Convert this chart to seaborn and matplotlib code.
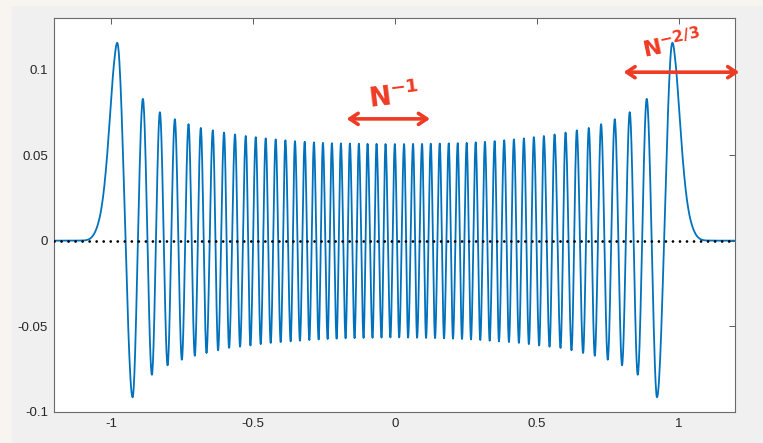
import numpy as np
import pandas as pd
import matplotlib
matplotlib.use("Agg")
import matplotlib.pyplot as plt
import seaborn as sns

# ---------------- data (left half; the curve is even) ----------------
# outer tail of the left edge (x, y)
tail_x = [-1.200, -1.100, -1.083, -1.071, -1.059, -1.047, -1.036, -1.025, -1.014, -1.002, -0.990]
tail_y = [0.0, 0.0001, 0.0005, 0.0016, 0.0042, 0.0092, 0.0170, 0.0300, 0.0495, 0.0770, 0.1030]

# positive maxima from the left edge up to the centre (x = 0)
peak_x = [-0.9782, -0.8878, -0.8279, -0.7752, -0.7270, -0.6837, -0.6414, -0.6017, -0.5630,
          -0.5253, -0.4901, -0.4550, -0.4198, -0.3856, -0.3519, -0.3177, -0.2850, -0.2533,
          -0.2217, -0.1900, -0.1583, -0.1267, -0.0961, -0.0644, -0.0327, 0.0]
peak_y = [0.1157, 0.0829, 0.0751, 0.0710, 0.0681, 0.0659, 0.0645, 0.0632, 0.0621,
          0.0612, 0.0605, 0.0598, 0.0592, 0.0587, 0.0582, 0.0578, 0.0575, 0.0572,
          0.0570, 0.0569, 0.0568, 0.0567, 0.0566, 0.0566, 0.0565, 0.0565]

# negative minima between them
trough_x = [-0.9240, -0.8561, -0.8008, -0.7505, -0.7048, -0.6636, -0.6228, -0.5841, -0.5454,
            -0.5088, -0.4726, -0.4374, -0.4022, -0.3670, -0.3343, -0.3012, -0.2685, -0.2368,
            -0.2051, -0.1735, -0.1418, -0.1101, -0.0785, -0.0468, -0.0155]
trough_y = [-0.0916, -0.0784, -0.0729, -0.0696, -0.0673, -0.0657, -0.0641, -0.0627, -0.0620,
            -0.0613, -0.0605, -0.0598, -0.0593, -0.0589, -0.0585, -0.0581, -0.0578, -0.0575,
            -0.0573, -0.0571, -0.0570, -0.0569, -0.0568, -0.0567, -0.0566]

x_ticks = [-1, -0.5, 0, 0.5, 1]
x_tick_labels = ["-1", "-0.5", "0", "0.5", "1"]
y_ticks = [-0.1, -0.05, 0, 0.05, 0.1]
y_tick_labels = ["-0.1", "-0.05", "0", "0.05", "0.1"]
x_limits = (-1.2, 1.2)
y_limits = (-0.1, 0.13)

# ---------------- build the knot sequence ----------------
ext_x = np.array(peak_x[:-1] + trough_x)
ext_y = np.array(peak_y[:-1] + trough_y)
o = np.argsort(ext_x)
ext_x, ext_y = ext_x[o], ext_y[o]

left_x = np.concatenate([tail_x, ext_x])
left_y = np.concatenate([tail_y, ext_y])
left_e = np.concatenate([np.zeros(len(tail_x), bool), np.ones(len(ext_x), bool)])
left_e[0] = True  # flat start

kx = np.concatenate([left_x, [peak_x[-1]], -left_x[::-1]])
ky = np.concatenate([left_y, [peak_y[-1]], left_y[::-1]])
ke = np.concatenate([left_e, [True], left_e[::-1]])

# slopes: zero at extrema, centred differences elsewhere
kd = np.zeros_like(kx)
for i in range(1, len(kx) - 1):
    if not ke[i]:
        kd[i] = (ky[i + 1] - ky[i - 1]) / (kx[i + 1] - kx[i - 1])

xs, ys = [], []
t = np.linspace(0, 1, 30)
h00 = 2 * t**3 - 3 * t**2 + 1
h10 = t**3 - 2 * t**2 + t
h01 = -2 * t**3 + 3 * t**2
h11 = t**3 - t**2
for i in range(len(kx) - 1):
    h = kx[i + 1] - kx[i]
    xs.append(kx[i] + t[:-1] * h)
    ys.append((h00 * ky[i] + h10 * h * kd[i] + h01 * ky[i + 1] + h11 * h * kd[i + 1])[:-1])
xs.append([kx[-1]])
ys.append([ky[-1]])
curve = pd.DataFrame({"x": np.concatenate(xs), "y": np.concatenate(ys)})
zero_line = pd.DataFrame({"x": list(x_limits), "y": [0.0, 0.0]})

# ---------------- figure ----------------
sns.set_style("white")
plt.rcParams["font.family"] = ["Liberation Sans", "DejaVu Sans"]
plt.rcParams["axes.unicode_minus"] = False
plt.rcParams["mathtext.fontset"] = "dejavusans"

W, H = 763, 443
fig = plt.figure(figsize=(W / 100, H / 100), dpi=100, facecolor="#f8f4ef")
bg = fig.add_axes([12 / W, 0, 1 - 12 / W, 1 - 6 / H])
bg.set_facecolor("#f0f0f0")
bg.set_xticks([])
bg.set_yticks([])
for s in bg.spines.values():
    s.set_visible(False)
bg.set_zorder(0)

ax = fig.add_axes([54.3 / W, (H - 411.7) / H, (735.3 - 54.3) / W, (411.7 - 18.3) / H])
ax.set_zorder(1)
ax.set_facecolor("white")

sns.lineplot(data=curve, x="x", y="y", ax=ax, color="#0072BD", lw=1.3,
             estimator=None, sort=False, zorder=2)
sns.lineplot(data=zero_line, x="x", y="y", ax=ax, color="black", lw=2.0,
             linestyle=(0, (0.01, 2.52)), dash_capstyle="round", estimator=None,
             sort=False, zorder=3)

ax.set_xlim(*x_limits)
ax.set_ylim(*y_limits)
ax.set_xticks(x_ticks)
ax.set_xticklabels(x_tick_labels)
ax.set_yticks(y_ticks)
ax.set_yticklabels(y_tick_labels)
ax.set_xlabel("")
ax.set_ylabel("")
ax.tick_params(direction="in", length=4.5, width=0.7, color="#5a5a5a", labelsize=9.5,
               labelcolor="#262626", top=True, right=True, pad=4.5)
for s in ax.spines.values():
    s.set_color("#6a6a6a")
    s.set_linewidth(0.8)
    s.set_visible(True)

# ---------------- red hand-drawn annotations ----------------
red = "#ee3b24"
ax.annotate("", xy=(-0.170, 0.0712), xytext=(0.124, 0.0712),
            arrowprops=dict(arrowstyle="<->,head_length=0.6,head_width=0.4", color=red, lw=2.6,
                            shrinkA=0, shrinkB=0), annotation_clip=False)
ax.text(-0.004, 0.0848, r"$\mathbf{N^{-1}}$", color=red, fontsize=19, ha="center",
        va="center", rotation=7)
ax.annotate("", xy=(0.806, 0.0985), xytext=(1.214, 0.0985),
            arrowprops=dict(arrowstyle="<->,head_length=0.6,head_width=0.4", color=red, lw=2.6,
                            shrinkA=0, shrinkB=0), annotation_clip=False)
ax.text(0.976, 0.1145, r"$\mathbf{N^{-2/3}}$", color=red, fontsize=16, ha="center",
        va="center", rotation=12, clip_on=False)

fig.savefig("out.png", dpi=100, facecolor=fig.get_facecolor())
